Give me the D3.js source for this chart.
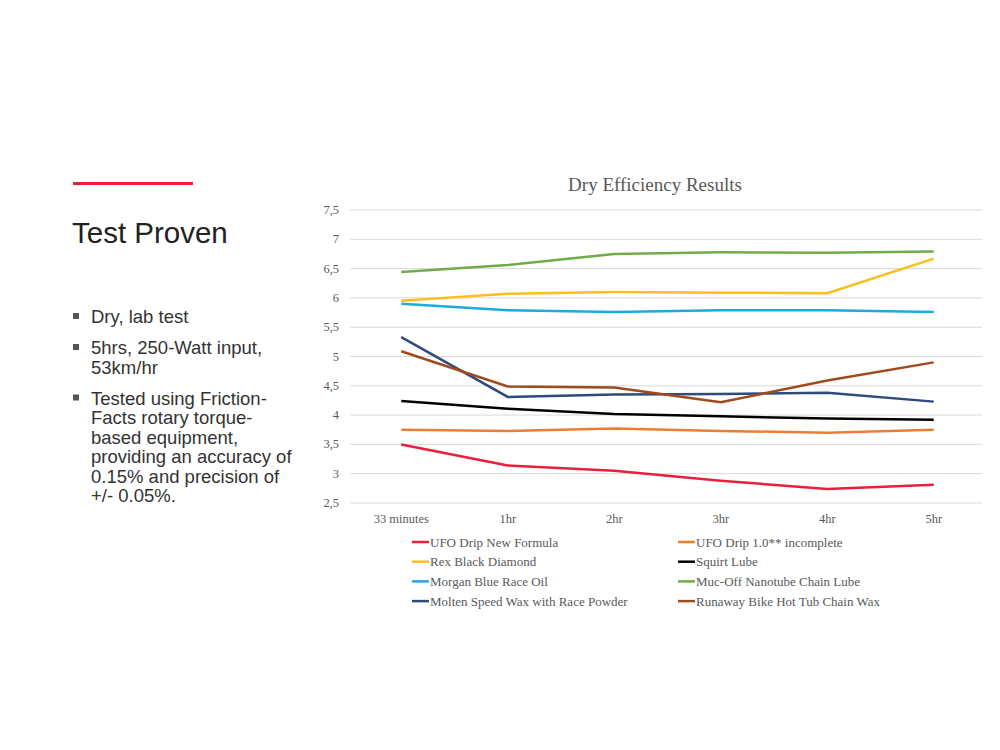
<!DOCTYPE html><html><head><meta charset="utf-8"><script src="https://cdn.jsdelivr.net/npm/d3@7"></script>
<style>body{margin:0;background:#fff}</style></head><body><svg id="c" width="1000" height="750"></svg><script>
const categories=["33 minutes","1hr","2hr","3hr","4hr","5hr"];
const seriesNames=["UFO Drip New Formula","UFO Drip 1.0** incomplete","Rex Black Diamond","Squirt Lube","Morgan Blue Race Oil","Muc-Off Nanotube Chain Lube","Molten Speed Wax with Race Powder","Runaway Bike Hot Tub Chain Wax"];
const seriesColors=["#e8203a","#ed7d31","#fbbf1c","#000000","#1ea9e1","#70ad47","#2f4b7c","#9e4a1c"];
const ufoNew=[3.5,3.14,3.05,2.88,2.74,2.81];
const ufoOld=[3.75,3.73,3.77,3.73,3.70,3.75];
const rex=[5.95,6.07,6.10,6.09,6.08,6.67];
const squirt=[4.24,4.11,4.02,3.98,3.94,3.92];
const morgan=[5.90,5.79,5.76,5.79,5.79,5.76];
const mucoff=[6.44,6.56,6.75,6.78,6.77,6.79];
const molten=[5.33,4.31,4.35,4.36,4.38,4.23];
const runaway=[5.09,4.49,4.47,4.22,4.59,4.90];
const yTicks=[2.5,3,3.5,4,4.5,5,5.5,6,6.5,7,7.5];
const bullets=[["Dry, lab test"],["5hrs, 250-Watt input,","53km/hr"],["Tested using Friction-","Facts rotary torque-","based equipment,","providing an accuracy of","0.15% and precision of","+/- 0.05%."]];
const allSeries=[ufoNew,ufoOld,rex,squirt,morgan,mucoff,molten,runaway];
const svg=d3.select("#c");
svg.append("rect").attr("x",73).attr("y",182).attr("width",120).attr("height",3).attr("fill","#e8203a");
svg.append("text").attr("x",72).attr("y",243).attr("font-family","Liberation Sans, Arial").attr("font-size",29.5).attr("fill","#222").text("Test Proven");
let yy=323;
bullets.forEach((b,i)=>{
  svg.append("rect").attr("x",73).attr("y",yy-10).attr("width",6).attr("height",6).attr("fill","#555");
  b.forEach((l,j)=>{svg.append("text").attr("x",91).attr("y",yy+j*19.5).attr("font-family","Liberation Sans, Arial").attr("font-size",18.5).attr("fill","#333").text(l);});
  yy+=b.length*19.5+11.5;
});
const x=d3.scalePoint().domain(categories).range([348,987]).padding(0.5);
const y=d3.scaleLinear().domain([2.5,7.5]).range([503,210]);
const serif="Liberation Serif, Times New Roman, serif";
const g=svg.append("g");
yTicks.forEach(t=>{
  g.append("line").attr("x1",350).attr("x2",982).attr("y1",y(t)).attr("y2",y(t)).attr("stroke","#d9d9d9");
  g.append("text").attr("x",339).attr("y",y(t)+4).attr("text-anchor","end").attr("font-family",serif).attr("font-size",12.5).attr("fill","#595959").text(String(t).replace(".",","));
});
categories.forEach(c=>g.append("text").attr("x",x(c)).attr("y",523).attr("text-anchor","middle").attr("font-family",serif).attr("font-size",12.5).attr("fill","#595959").text(c));
svg.append("text").attr("x",655).attr("y",191).attr("text-anchor","middle").attr("font-family",serif).attr("font-size",19).attr("fill","#595959").text("Dry Efficiency Results");
const line=d3.line().x((d,i)=>x(categories[i])).y(d=>y(d));
allSeries.forEach((s,i)=>g.append("path").attr("d",line(s)).attr("fill","none").attr("stroke",seriesColors[i]).attr("stroke-width",2.5));
seriesNames.forEach((n,i)=>{
  const lx=i%2?678:412, ly=542+Math.floor(i/2)*19.7;
  svg.append("line").attr("x1",lx).attr("x2",lx+17).attr("y1",ly).attr("y2",ly).attr("stroke",seriesColors[i]).attr("stroke-width",2.5);
  svg.append("text").attr("x",lx+18).attr("y",ly+4.5).attr("font-family",serif).attr("font-size",13).attr("fill","#595959").text(n);
});
</script></body></html>
